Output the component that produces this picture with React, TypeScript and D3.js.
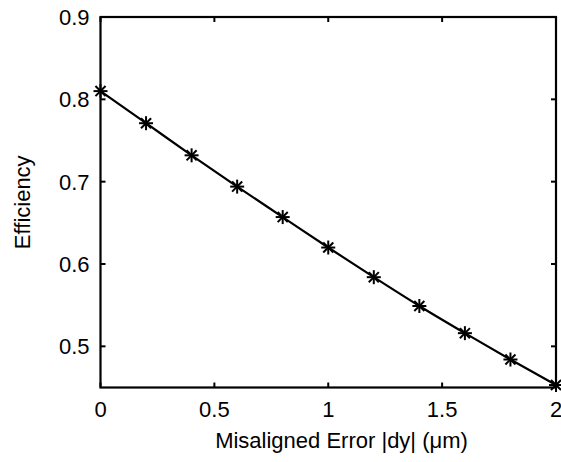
import React from "react";
import * as d3 from "d3";

const xValues = [0, 0.2, 0.4, 0.6, 0.8, 1.0, 1.2, 1.4, 1.6, 1.8, 2.0];
const efficiency = [0.81, 0.771, 0.732, 0.694, 0.657, 0.62, 0.584, 0.549, 0.516, 0.484, 0.453];
const xTicks = [0, 0.5, 1, 1.5, 2];
const yTicks = [0.5, 0.6, 0.7, 0.8, 0.9];
const xTickLabels = ["0", "0.5", "1", "1.5", "2"];
const yTickLabels = ["0.5", "0.6", "0.7", "0.8", "0.9"];

export default function App() {
  const W = 561, H = 462;
  const L = 100.5, R = 556, T = 17, B = 387.5;
  const x = d3.scaleLinear().domain([0, 2]).range([L, R]);
  const y = d3.scaleLinear().domain([0.45, 0.9]).range([B, T]);
  const line = d3.line<number>().x((_, i) => x(xValues[i])).y((d) => y(d)).curve(d3.curveMonotoneX);
  const font = "Arial, 'Liberation Sans', sans-serif";
  const fs = 22;
  const tk = 5;
  const ms = 7;
  return (
    <svg width={W} height={H} style={{ position: "absolute", left: 0, top: 0 }}>
      <rect x={0} y={0} width={W} height={H} fill="#fff" />
      <path d={line(efficiency) || ""} fill="none" stroke="#000" strokeWidth={2.2} />
      {efficiency.map((v, i) => {
        const cx = x(xValues[i]);
        const cy = y(v);
        const d = ms * 0.72;
        return (
          <g key={i} stroke="#000" strokeWidth={2}>
            <line x1={cx - ms} y1={cy} x2={cx + ms} y2={cy} />
            <line x1={cx} y1={cy - ms} x2={cx} y2={cy + ms} />
            <line x1={cx - d} y1={cy - d} x2={cx + d} y2={cy + d} />
            <line x1={cx - d} y1={cy + d} x2={cx + d} y2={cy - d} />
          </g>
        );
      })}
      <rect x={L} y={T} width={R - L} height={B - T} fill="none" stroke="#000" strokeWidth={2.2} />
      {xTicks.map((t, i) => (
        <g key={"x" + i}>
          <line x1={x(t)} y1={B} x2={x(t)} y2={B - tk} stroke="#000" strokeWidth={2} />
          <line x1={x(t)} y1={T} x2={x(t)} y2={T + tk} stroke="#000" strokeWidth={2} />
          <text x={x(t)} y={417} fontSize={fs} fontFamily={font} textAnchor="middle">
            {xTickLabels[i]}
          </text>
        </g>
      ))}
      {yTicks.map((t, i) => (
        <g key={"y" + i}>
          <line x1={L} y1={y(t)} x2={L + tk} y2={y(t)} stroke="#000" strokeWidth={2} />
          <line x1={R} y1={y(t)} x2={R - tk} y2={y(t)} stroke="#000" strokeWidth={2} />
          <text x={L - 11} y={y(t) + 8} fontSize={fs} fontFamily={font} textAnchor="end">
            {yTickLabels[i]}
          </text>
        </g>
      ))}
      <text x={(218 + 465) / 2} y={448} fontSize={fs} fontFamily={font} textAnchor="middle">
        Misaligned Error |dy| (μm)
      </text>
      <text transform={`translate(30, ${(T + B) / 2}) rotate(-90)`} fontSize={fs} fontFamily={font} textAnchor="middle">
        Efficiency
      </text>
    </svg>
  );
}
